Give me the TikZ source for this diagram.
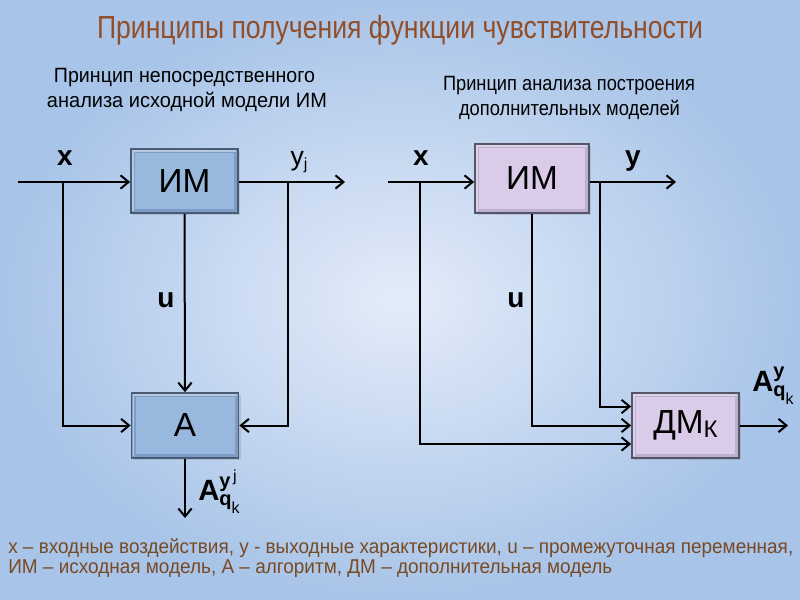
\documentclass[tikz,border=0pt]{standalone}
\usepackage{fontspec}
\setmainfont{Liberation Sans}
\usepackage{graphicx}
\usetikzlibrary{arrows.meta,calc,shadows}
\definecolor{bgin}{RGB}{228,236,249}
\definecolor{bgout}{RGB}{168,196,232}
\definecolor{titlec}{RGB}{145,78,40}
\definecolor{notec}{RGB}{120,74,36}
\definecolor{bluein}{RGB}{152,184,222}
\definecolor{blueout}{RGB}{125,156,198}
\definecolor{bluedraw}{RGB}{72,92,120}
\definecolor{pinkin}{RGB}{218,204,232}
\definecolor{pinkout}{RGB}{190,176,208}
\definecolor{pinkdraw}{RGB}{85,85,105}
\tikzset{
  arr/.style={line width=1.5pt,-{Straight Barb[length=6pt,width=10pt,line width=1.5pt]}},
  ln/.style={line width=1.5pt},
  bevelbox/.style n args={3}{draw=#3,line width=1.3pt,fill=#2,inner sep=0pt,
    drop shadow={opacity=0.25,shadow xshift=1.5pt,shadow yshift=-1.5pt},
    path picture={\fill[#1] ([shift={(3pt,-3pt)}]path picture bounding box.north west) rectangle ([shift={(-3pt,3pt)}]path picture bounding box.south east);
      \draw[white,opacity=0.45,line width=1pt] ([shift={(1.5pt,1.5pt)}]path picture bounding box.south west) |- ([shift={(-1.5pt,-1.5pt)}]path picture bounding box.north east);},
    font=\fontsize{25}{25}\selectfont},
  bluebox/.style={bevelbox={bluein}{blueout}{bluedraw}},
  pinkbox/.style={bevelbox={pinkin}{pinkout}{pinkdraw}},
  sig/.style={font=\fontsize{21}{21}\selectfont\bfseries,inner sep=0pt},
  head/.style={font=\fontsize{15.5}{15.5}\selectfont,inner sep=0pt},
  note/.style={font=\fontsize{15}{15}\selectfont,text=notec,inner sep=0pt,anchor=west},
}
\begin{document}
\begin{tikzpicture}[x=0.75pt,y=-0.75pt]
\shade[inner color=bgin,outer color=bgout] (0,0) rectangle (800,600);
\useasboundingbox (0,0) rectangle (800,600);

% titles
\node[inner sep=0pt,text=titlec] (title) at (400,30) {\resizebox{454.5pt}{\height}{\fontsize{24}{24}\selectfont Принципы получения функции чувствительности}};
\node[head] (h1a) at (184.5,78) {\resizebox{195.75pt}{\height}{Принцип непосредственного}};
\node[head] (h1b) at (187,102) {\resizebox{210pt}{\height}{анализа исходной модели ИМ}};
\node[head] (h2a) at (569,86) {\resizebox{189pt}{\height}{Принцип анализа построения}};
\node[head] (h2b) at (569.5,110) {\resizebox{165.75pt}{\height}{дополнительных моделей}};

% left scheme
\node[bluebox,minimum width={107*0.75pt},minimum height={64*0.75pt}] (IM1) at (184.5,181) {ИМ};
\node[bluebox,minimum width={107*0.75pt},minimum height={65*0.75pt}] (A1) at (185,425.5) {А};
\coordinate (xin1) at (18,182);
\coordinate (bx1) at (63,182);
\coordinate (by1) at (288,182);
\coordinate (yout1) at (345,182);
\coordinate (aout1) at (185,518);
\draw[arr] (xin1) -- (xin1 -| IM1.west);
\draw[arr] (bx1) |- (A1.west);
\draw[arr] (yout1 -| IM1.east) -- (yout1);
\draw[arr] (by1) |- (A1.east);
\draw[arr] (IM1.south) -- (A1.north);
\draw[arr] (A1.south) -- (aout1);
\node[sig] (lx1) at (65,158) {x};
\node[inner sep=0pt,font=\fontsize{20}{20}\selectfont] (ly1) at (299,162) {y\raisebox{-3pt}{\fontsize{12}{12}\selectfont j}};
\node[sig] (lu1) at (166,300) {u};
\node[inner sep=0pt,anchor=west] (la1) at (198,492) {\fontsize{22}{22}\selectfont\bfseries A\rlap{\raisebox{10pt}{\fontsize{15}{15}\selectfont y\raisebox{4pt}{\fontsize{12}{12}\mdseries\selectfont\,j}}}\raisebox{-4pt}{\fontsize{15}{15}\selectfont q\raisebox{-6pt}{\fontsize{12}{12}\mdseries\selectfont k}}};

% right scheme
\node[pinkbox,minimum width={114*0.75pt},minimum height={69*0.75pt}] (IM2) at (532,178.5) {ИМ};
\node[pinkbox,minimum width={107*0.75pt},minimum height={65*0.75pt}] (DM) at (685.5,425.5) {ДМ\raisebox{-3pt}{\fontsize{18}{18}\selectfont К}};
\coordinate (xin2) at (388,182);
\coordinate (bx2) at (420,182);
\coordinate (by2) at (600,182);
\coordinate (yout2) at (676,182);
\coordinate (dmout) at (788,425.5);
\draw[arr] (xin2) -- (xin2 -| IM2.west);
\draw[arr] (bx2) |- ($(DM.west)+(0,18.5)$);
\draw[arr] (yout2 -| IM2.east) -- (yout2);
\draw[arr] (by2) |- ($(DM.west)+(0,-19)$);
\draw[arr] (IM2.south) |- (DM.west);
\draw[arr] (DM.east) -- (dmout);
\node[sig] (lx2) at (421,158) {x};
\node[sig] (ly2) at (633,161) {y};
\node[sig] (lu2) at (516,300) {u};
\node[inner sep=0pt,anchor=west] (la2) at (752,386) {\fontsize{22}{22}\selectfont\bfseries A\rlap{\raisebox{10pt}{\fontsize{15}{15}\selectfont y}}\raisebox{-4pt}{\fontsize{15}{15}\selectfont q\raisebox{-6pt}{\fontsize{12}{12}\mdseries\selectfont k}}};

% notes
\node[note] (n1) at (8,548) {\resizebox{588.75pt}{\height}{x – входные воздействия, y - выходные характеристики, u – промежуточная переменная,}};
\node[note] (n2) at (8,569) {\resizebox{453pt}{\height}{ИМ – исходная модель, А – алгоритм, ДМ – дополнительная модель}};
\end{tikzpicture}
\end{document}
